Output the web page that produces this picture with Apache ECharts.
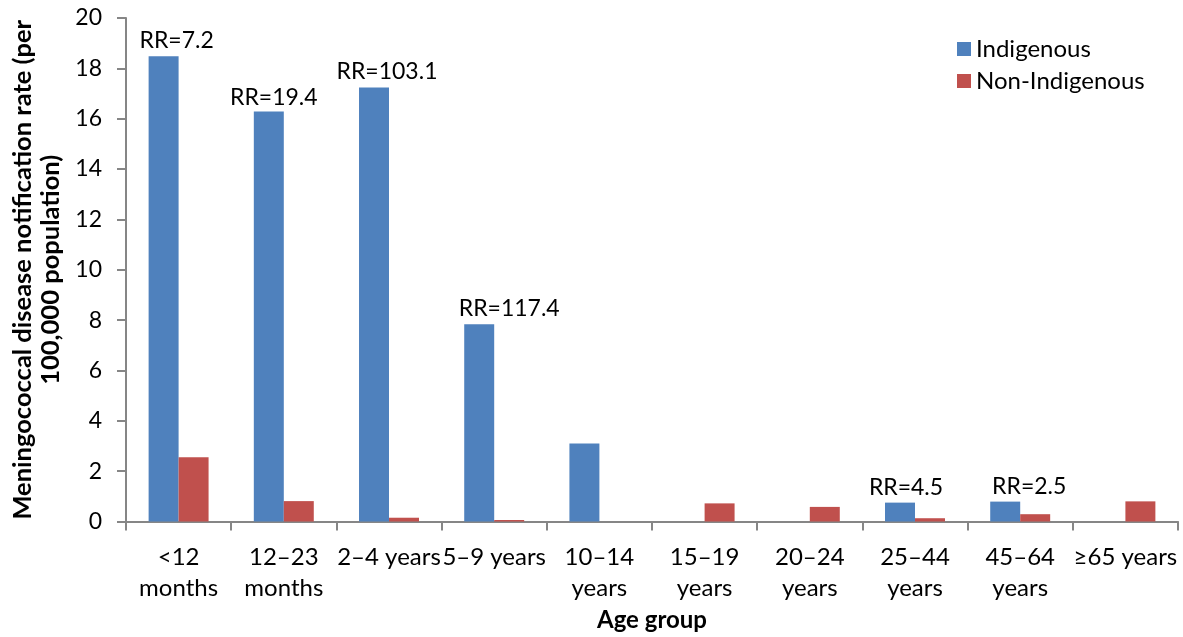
<!DOCTYPE html>
<html>
<head>
<meta charset="utf-8">
<script src="https://cdn.jsdelivr.net/npm/echarts@6/dist/echarts.min.js"></script>
<style>
  html, body { margin: 0; padding: 0; background: #fff; }
  #chart { width: 1183px; height: 637px; }
</style>
</head>
<body>
<div id="chart"></div>
<script>
// Age groups and notification rates per 100,000 population
const categories = ['<12\nmonths', '12–23\nmonths', '2–4 years', '5–9 years', '10–14\nyears',
  '15–19\nyears', '20–24\nyears', '25–44\nyears', '45–64\nyears', '≥65 years'];
const indigenous = [18.48, 16.29, 17.24, 7.84, 3.10, 0, 0, 0.75, 0.79, 0];
const nonIndigenous = [2.55, 0.81, 0.15, 0.06, 0, 0.72, 0.58, 0.13, 0.29, 0.80];
// Rate ratios shown above the Indigenous bars
const rateRatios = ['RR=7.2', 'RR=19.4', 'RR=103.1', 'RR=117.4', '', '', '', 'RR=4.5', 'RR=2.5', ''];
const yTicks = [0, 2, 4, 6, 8, 10, 12, 14, 16, 18, 20];

// Horizontal/vertical nudges for the ratio labels
const ratioOffsets = [[13, 0], [5, 2], [13, 0], [30, 0], [0, 0], [0, 0], [0, 0], [6, 0], [24, 0], [0, 0]];

const FONT = 'Lato';
const axisGrey = '#868686';

const chart = echarts.init(document.getElementById('chart'), null, { renderer: 'canvas' });

chart.setOption({
  animation: false,
  textStyle: { fontFamily: FONT, color: '#000' },
  grid: { left: 126, right: 5, top: 18, bottom: 115.5, containLabel: false, outerBoundsMode: 'none' },
  legend: {
    orient: 'vertical',
    left: 952,
    top: 32,
    itemWidth: 14,
    itemHeight: 14,
    itemGap: 8,
    icon: 'rect',
    textStyle: { fontFamily: FONT, fontSize: 24, color: '#000' },
    data: ['Indigenous', 'Non-Indigenous']
  },
  xAxis: {
    type: 'category',
    data: categories,
    name: 'Age group',
    nameLocation: 'middle',
    nameGap: 84,
    nameTextStyle: { fontFamily: FONT, fontSize: 24, fontWeight: 'bold', color: '#000' },
    axisLine: { lineStyle: { color: axisGrey, width: 2 } },
    axisTick: { show: true, length: 9, lineStyle: { color: axisGrey, width: 2 } },
    axisLabel: {
      interval: 0,
      margin: 20,
      fontFamily: FONT,
      fontSize: 24,
      lineHeight: 31,
      color: '#000'
    }
  },
  yAxis: {
    type: 'value',
    min: 0,
    max: yTicks[yTicks.length - 1],
    interval: yTicks[1] - yTicks[0],
    name: 'Meningococcal disease notification rate (per\n100,000 population)',
    nameLocation: 'middle',
    nameGap: 56,
    nameTextStyle: { fontFamily: FONT, fontSize: 25.5, fontWeight: 'bold', color: '#000', lineHeight: 28 },
    axisLine: { show: true, lineStyle: { color: axisGrey, width: 2 } },
    axisTick: { show: true, length: 9, lineStyle: { color: axisGrey, width: 2 } },
    axisLabel: { margin: 24, fontFamily: FONT, fontSize: 23, color: '#000' },
    splitLine: { show: false }
  },
  series: [
    {
      name: 'Indigenous',
      type: 'bar',
      barGap: '0%',
      barCategoryGap: '43%',
      itemStyle: { color: '#4F81BD' },
      data: indigenous.map((v, i) => ({
        value: v,
        label: {
          show: rateRatios[i] !== '',
          position: 'top',
          distance: 4,
          offset: ratioOffsets[i],
          formatter: rateRatios[i],
          fontFamily: FONT,
          fontSize: 23,
          color: '#000'
        }
      }))
    },
    {
      name: 'Non-Indigenous',
      type: 'bar',
      itemStyle: { color: '#C0504D' },
      data: nonIndigenous
    }
  ]
});
</script>
</body>
</html>
